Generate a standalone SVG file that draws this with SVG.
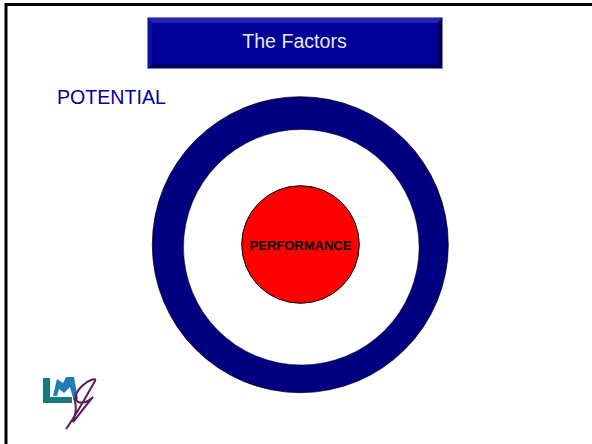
<svg xmlns="http://www.w3.org/2000/svg" width="592" height="444" viewBox="0 0 592 444">
<style>
text{font-family:"Liberation Sans",Arial,sans-serif}
.c{text-anchor:middle}
</style>
<defs><filter id="soft" x="-10%" y="-10%" width="120%" height="120%"><feGaussianBlur stdDeviation="0.500"/></filter></defs>
<rect width="592" height="444" fill="#fff"/>
<g id="frame"><path d="M6 444V4.500H592" fill="none" stroke="#000" stroke-width="3"/></g>
<g id="title">
<rect x="147" y="17" width="296" height="52" fill="#000099"/>
<polygon points="147,17 443,17 438,23 152,23" fill="#2222b4"/>
<polygon points="443,17 443,69 438,64 438,23" fill="#000050"/>
<polygon points="147,69 443,69 438,64 152,64" fill="#000060"/>
<polygon points="147,17 147,69 152,64 152,23" fill="#10109f"/>
<rect x="147.500" y="17.500" width="295" height="51" fill="none" stroke="#8080c8" stroke-width="1"/>
<text class="c" x="294.500" y="48" font-size="19.600" fill="#e8e8f8">The Factors</text>
</g>
<g id="potential"><text x="57" y="104" font-size="19.600" fill="#000099">POTENTIAL</text></g>
<g id="ring">
<circle cx="300.300" cy="244.700" r="148" fill="#000080" stroke="#000" stroke-width="0.700"/>
<circle cx="301.300" cy="247.200" r="117.800" fill="#fff" stroke="#000" stroke-width="0.500"/>
</g>
<g id="performance">
<circle cx="300.500" cy="244.500" r="58.800" fill="#ff0000" stroke="#000" stroke-width="1"/>
<text class="c" x="300.500" y="250" font-size="13" font-weight="700" fill="#000">PERFORMANCE</text>
</g>
<g id="logo" filter="url(#soft)">
<path d="M43 378H50V397H72V403H43Z" fill="#157a80"/>
<path d="M53 396L57 379L63 383L66 377H74L78 399L73 398L70 387L64 393L59 389L57 396Z" fill="#1f7fb0"/>
<path d="M66 429C76 415 84 400 95 381C97 377 88 380 82 386C76 392 74 398 78 402C84 404 90 400 93 397C86 405 79 415 73 422C76 412 77 406 74 398" fill="none" stroke="#5a1a5e" stroke-width="2"/>
</g>
</svg>
